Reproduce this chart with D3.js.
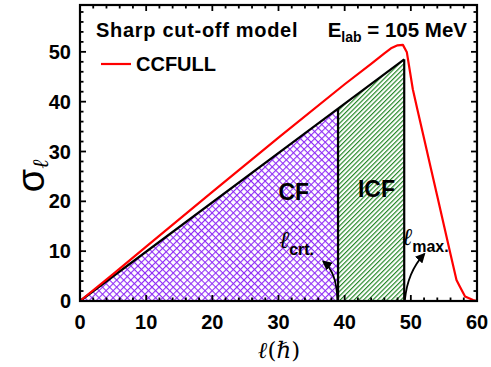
<!DOCTYPE html>
<html>
<head>
<meta charset="utf-8">
<script src="https://cdn.jsdelivr.net/npm/d3@7"></script>
<style>
  body { margin: 0; background: #fff; }
  svg { display: block; }
  .tick-label { font-family: "Liberation Sans", Arial, sans-serif; font-weight: bold; font-size: 20px; }
  .bold { font-family: "Liberation Sans", Arial, sans-serif; font-weight: bold; }
  .serif { font-family: "DejaVu Serif", "Liberation Serif", serif; }
</style>
</head>
<body>
<svg id="chart"></svg>
<script>
// angular momentum (hbar) and partial cross sections
const sharpL = [0, 39, 49];
const sharpSigma = [0, 38.6, 48.5];
const lCrit = 39;
const lMax = 49;

const ccfullL = [0, 5, 10, 20, 30, 40, 44, 46, 47, 48, 48.8, 49.4, 50.3, 51, 52, 53, 54, 55, 56, 56.9, 57.4, 58.2, 59.4, 60];
const ccfullSigma = [0, 5.4, 10.9, 21.9, 32.8, 43.5, 47.6, 49.7, 50.7, 51.3, 51.4, 49.9, 42.5, 38.4, 32.6, 26.8, 21, 15.2, 9.4, 4.2, 2.9, 0.9, 0.2, 0];

const xTicks = [0, 10, 20, 30, 40, 50, 60];
const yTicks = [0, 10, 20, 30, 40, 50];

const width = 491, height = 367;
const svg = d3.select('#chart').attr('width', width).attr('height', height);

const x = d3.scaleLinear().domain([0, 60]).range([80, 477]);
const y = d3.scaleLinear().domain([0, 59.4]).range([301, 5]);

const defs = svg.append('defs');

// purple cross hatch for CF
const cf = defs.append('pattern')
  .attr('id', 'cfHatch').attr('patternUnits', 'userSpaceOnUse')
  .attr('width', 5).attr('height', 5)
  .attr('patternTransform', 'rotate(45)');
cf.append('rect').attr('width', 5).attr('height', 5).attr('fill', '#fff');
cf.append('line').attr('x1', 0).attr('y1', 0.5).attr('x2', 5).attr('y2', 0.5)
  .attr('stroke', '#8f2cf5').attr('stroke-width', 1.2);
cf.append('line').attr('x1', 0.5).attr('y1', 0).attr('x2', 0.5).attr('y2', 5)
  .attr('stroke', '#8f2cf5').attr('stroke-width', 1.2);

// green single hatch for ICF
const icf = defs.append('pattern')
  .attr('id', 'icfHatch').attr('patternUnits', 'userSpaceOnUse')
  .attr('width', 3.3).attr('height', 3.3)
  .attr('patternTransform', 'rotate(-45)');
icf.append('rect').attr('width', 3.3).attr('height', 3.3).attr('fill', '#fff');
icf.append('line').attr('x1', 0).attr('y1', 0.6).attr('x2', 3.3).attr('y2', 0.6)
  .attr('stroke', '#17801a').attr('stroke-width', 1.1);

defs.append('marker')
  .attr('id', 'arrow').attr('viewBox', '0 0 10 10')
  .attr('refX', 8).attr('refY', 5)
  .attr('markerWidth', 10).attr('markerHeight', 10)
  .attr('markerUnits', 'userSpaceOnUse')
  .attr('orient', 'auto')
  .append('path').attr('d', 'M0,0 L10,5 L0,10 Z').attr('fill', '#000');

const sharp = d3.scaleLinear().domain(sharpL).range(sharpSigma);

// filled regions
const area = d3.area().x(d => x(d[0])).y0(y(0)).y1(d => y(d[1]));
svg.append('path')
  .datum([[0, 0], [lCrit, sharp(lCrit)]])
  .attr('d', area).attr('fill', 'url(#cfHatch)');
svg.append('path')
  .datum([[lCrit, sharp(lCrit)], [lMax, sharp(lMax)]])
  .attr('d', area).attr('fill', 'url(#icfHatch)');

// sharp cut-off outline
const line = d3.line().x(d => x(d[0])).y(d => y(d[1]));
svg.append('path')
  .datum(sharpL.map((l, i) => [l, sharpSigma[i]]))
  .attr('d', line).attr('fill', 'none').attr('stroke', '#000').attr('stroke-width', 2.2);
[lCrit, lMax].forEach(l => {
  svg.append('line')
    .attr('x1', x(l)).attr('x2', x(l)).attr('y1', y(0)).attr('y2', y(sharp(l)))
    .attr('stroke', '#000').attr('stroke-width', 2.2);
});

// CCFULL
svg.append('path')
  .datum(ccfullL.map((l, i) => [l, ccfullSigma[i]]))
  .attr('d', line).attr('fill', 'none').attr('stroke', '#ff0000').attr('stroke-width', 2.2)
  .attr('stroke-linejoin', 'round');

// frame and ticks
const x0 = x.range()[0], x1 = x.range()[1], yb = y.range()[0], yt = y.range()[1];
const tickG = svg.append('g').attr('stroke', '#000').attr('stroke-width', 1.8);
d3.range(0, 61, 2).forEach(v => {
  const len = v % 10 === 0 ? 6 : 3.5;
  tickG.append('line').attr('x1', x(v)).attr('x2', x(v)).attr('y1', yb).attr('y2', yb - len);
  tickG.append('line').attr('x1', x(v)).attr('x2', x(v)).attr('y1', yt).attr('y2', yt + len);
});
d3.range(0, 59, 2).forEach(v => {
  const len = v % 10 === 0 ? 6 : 3.5;
  tickG.append('line').attr('y1', y(v)).attr('y2', y(v)).attr('x1', x0).attr('x2', x0 + len);
  tickG.append('line').attr('y1', y(v)).attr('y2', y(v)).attr('x1', x1).attr('x2', x1 - len);
});
svg.append('rect')
  .attr('x', x0).attr('y', yt).attr('width', x1 - x0).attr('height', yb - yt)
  .attr('fill', 'none').attr('stroke', '#000').attr('stroke-width', 2.2);

// tick labels
svg.selectAll('.xl').data(xTicks).join('text')
  .attr('class', 'tick-label').attr('x', d => x(d)).attr('y', 329)
  .attr('text-anchor', 'middle').text(d => d);
svg.selectAll('.yl').data(yTicks).join('text')
  .attr('class', 'tick-label').attr('x', 71).attr('y', d => y(d) + 7)
  .attr('text-anchor', 'end').text(d => d);

// axis titles
const xt = svg.append('text').attr('class', 'serif').attr('x', 279).attr('y', 358)
  .attr('text-anchor', 'middle').attr('font-size', 23);
xt.append('tspan').attr('font-style', 'italic').text('ℓ');
xt.append('tspan').text('(ℏ)');

const yt2 = svg.append('text')
  .attr('transform', 'translate(44,176) rotate(-90)').attr('text-anchor', 'middle');
yt2.append('tspan').attr('font-family', '"Liberation Sans", Arial, sans-serif').attr('font-size', 38).text('σ');
yt2.append('tspan').attr('class', 'serif').attr('font-size', 22).attr('font-style', 'italic').attr('dy', 4).text('ℓ');

// title texts
svg.append('text').attr('class', 'bold').attr('x', 96).attr('y', 37)
  .attr('font-size', 20).attr('letter-spacing', 0.7).text('Sharp cut-off model');
const el = svg.append('text').attr('class', 'bold').attr('x', 467).attr('y', 37)
  .attr('font-size', 20.5).attr('text-anchor', 'end');
el.append('tspan').text('E');
el.append('tspan').attr('font-size', 14).attr('dy', 5).text('lab');
el.append('tspan').attr('dy', -5).text(' = 105 MeV');

// legend
svg.append('line').attr('x1', 101).attr('x2', 131).attr('y1', 64).attr('y2', 64)
  .attr('stroke', '#ff0000').attr('stroke-width', 2.2);
svg.append('text').attr('class', 'bold').attr('x', 136).attr('y', 71)
  .attr('font-size', 20).text('CCFULL');

// region labels
svg.append('text').attr('class', 'bold').attr('x', x(32.3)).attr('y', y(20.3))
  .attr('font-size', 23).attr('text-anchor', 'middle').text('CF');
svg.append('text').attr('class', 'bold').attr('x', x(44.8)).attr('y', y(20.8))
  .attr('font-size', 23).attr('text-anchor', 'middle').text('ICF');

// l crit / l max annotations
function annot(px, py, sub) {
  const t = svg.append('text').attr('x', px).attr('y', py);
  t.append('tspan').attr('class', 'serif').attr('font-style', 'italic').attr('font-size', 24).text('ℓ');
  t.append('tspan').attr('class', 'bold').attr('font-size', 16).attr('dy', 7).text(sub);
}
annot(x(30.1), y(10.6), 'crt.');
annot(x(48.7), y(11.2), 'max.');

const curve = (a, c, b) => `M${x(a[0])},${y(a[1])} Q${x(c[0])},${y(c[1])} ${x(b[0])},${y(b[1])}`;
svg.append('path').attr('d', curve([38.9, 0.2], [38.8, 5.8], [36.8, 7.9]))
  .attr('fill', 'none').attr('stroke', '#000').attr('stroke-width', 1.8).attr('marker-end', 'url(#arrow)');
svg.append('path').attr('d', curve([49.1, 0.2], [49.5, 5.8], [52.0, 9.4]))
  .attr('fill', 'none').attr('stroke', '#000').attr('stroke-width', 1.8).attr('marker-end', 'url(#arrow)');
</script>
</body>
</html>
